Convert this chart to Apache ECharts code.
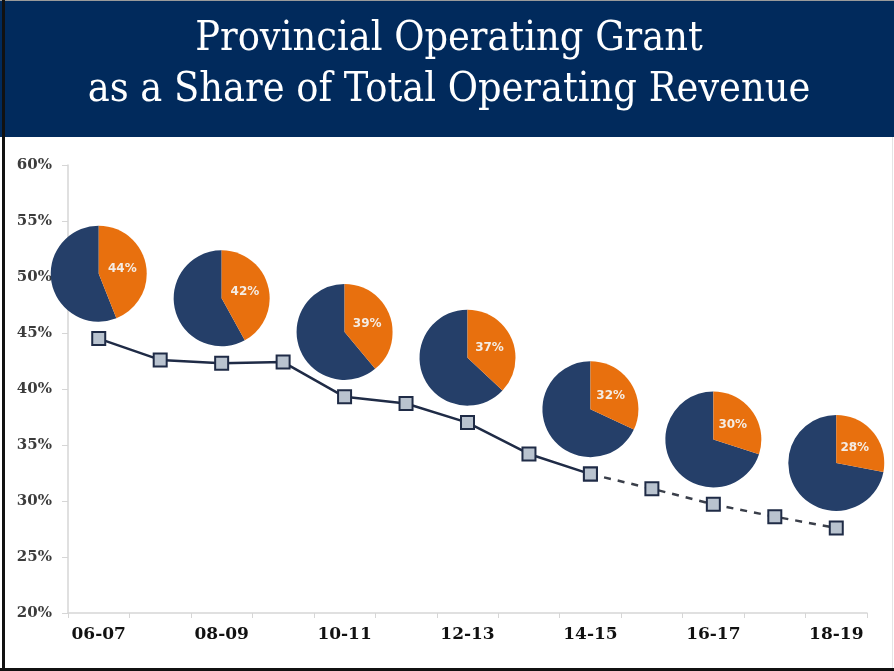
<!DOCTYPE html>
<html>
<head>
<meta charset="utf-8">
<script src="https://cdn.jsdelivr.net/npm/echarts@6/dist/echarts.min.js"></script>
<style>
  html, body { margin: 0; padding: 0; background: #fff; }
  #chart { width: 894px; height: 671px; }
</style>
</head>
<body>
<div id="chart"></div>
<script>
// fiscal years, one point each
const years = ['06-07', '07-08', '08-09', '09-10', '10-11', '11-12', '12-13',
  '13-14', '14-15', '15-16', '16-17', '17-18', '18-19']
// grant share of total operating revenue (%)
const grantShare = [44.5, 42.6, 42.3, 42.4, 39.3, 38.7, 37.0, 34.2, 32.4, 31.1, 29.7, 28.6, 27.6]
// last actual year, after which the line is a projection
const lastActualIndex = 8
// pies sit above every other year
const pieYears = ['06-07', '08-09', '10-11', '12-13', '14-15', '16-17', '18-19']
const pieShares = [44, 42, 39, 37, 32, 30, 28]
const yTicks = { min: 20, max: 60, step: 5 }

const NAVY = '#253f69'
const ORANGE = '#e8700e'
const LINE = '#1f2b46'
const PIE_LIFT = 5.8   // pie centre sits this many points above its marker
const PIE_R = 48

const chart = echarts.init(document.getElementById('chart'))

const actualData = grantShare.map((v, i) => (i <= lastActualIndex ? v : '-'))
const projectedData = grantShare.map((v, i) => (i >= lastActualIndex ? v : '-'))
const pieData = pieYears.map((y, i) => {
  const idx = years.indexOf(y)
  return [idx, grantShare[idx] + PIE_LIFT, pieShares[i]]
})

const renderPie = (params, api) => {
  const c = api.coord([api.value(0), api.value(1)])
  const share = api.value(2) / 100
  const start = -Math.PI / 2
  const split = start + share * Math.PI * 2
  const mid = (start + split) / 2
  return {
    type: 'group',
    children: [
      {
        type: 'sector',
        shape: { cx: c[0], cy: c[1], r: PIE_R, startAngle: split, endAngle: start + Math.PI * 2, clockwise: true },
        style: { fill: NAVY }
      },
      {
        type: 'sector',
        shape: { cx: c[0], cy: c[1], r: PIE_R, startAngle: start, endAngle: split, clockwise: true },
        style: { fill: ORANGE }
      },
      {
        type: 'text',
        x: c[0] + Math.cos(mid) * PIE_R * 0.5,
        y: c[1] + Math.sin(mid) * PIE_R * 0.5,
        style: {
          text: api.value(2) + '%',
          fill: '#f4ece4',
          font: 'bold 12px "DejaVu Sans"',
          align: 'center',
          verticalAlign: 'middle'
        }
      }
    ]
  }
}

const markerStyle = {
  color: '#b9c3cf',
  borderColor: LINE,
  borderWidth: 2
}

chart.setOption({
  animation: false,
  backgroundColor: '#ffffff',
  graphic: [
    { type: 'rect', shape: { x: 0, y: 0, width: 894, height: 137 }, style: { fill: '#012a5c' }, z: -1 },
    { type: 'rect', shape: { x: 0, y: 0, width: 894, height: 1 }, style: { fill: '#9a9a9a' } },
    { type: 'rect', shape: { x: 2, y: 0, width: 3, height: 671 }, style: { fill: '#111111' } },
    { type: 'rect', shape: { x: 0, y: 668, width: 894, height: 3 }, style: { fill: '#111111' } },
    { type: 'rect', shape: { x: 892, y: 137, width: 1, height: 531 }, style: { fill: '#e4e4e4' } }
  ],
  title: {
    text: 'Provincial Operating Grant\nas a Share of Total Operating Revenue',
    left: 449,
    top: 14,
    padding: 0,
    textAlign: 'center',
    textStyle: {
      color: '#ffffff',
      fontFamily: '"DejaVu Serif Condensed", "DejaVu Serif", serif',
      fontWeight: 'normal',
      fontSize: 41,
      lineHeight: 51
    }
  },
  grid: {
    left: 68,
    right: 27,
    top: 165,
    bottom: 58
  },
  xAxis: {
    type: 'category',
    data: years,
    boundaryGap: true,
    axisLine: { lineStyle: { color: '#d6d6d6', width: 1.5 } },
    axisTick: { show: true, interval: 0, length: 5, lineStyle: { color: '#d6d6d6' } },
    axisLabel: {
      interval: 1,
      margin: 13,
      color: '#111111',
      fontSize: 17,
      fontWeight: 'bold',
      fontFamily: '"DejaVu Serif", serif'
    }
  },
  yAxis: {
    type: 'value',
    min: yTicks.min,
    max: yTicks.max,
    interval: yTicks.step,
    splitLine: { show: false },
    axisLine: { show: true, lineStyle: { color: '#d6d6d6', width: 1.5 } },
    axisTick: { show: true, length: 6, lineStyle: { color: '#d6d6d6' } },
    axisLabel: {
      formatter: '{value}%',
      margin: 16,
      color: '#3c3c3c',
      fontSize: 15,
      fontWeight: 'bold',
      fontFamily: '"DejaVu Serif", serif'
    }
  },
  series: [
    {
      name: 'pies',
      type: 'custom',
      data: pieData,
      renderItem: renderPie,
      clip: false,
      z: 1
    },
    {
      name: 'actual',
      type: 'line',
      data: actualData,
      symbol: 'rect',
      symbolSize: 13,
      showAllSymbol: true,
      lineStyle: { color: LINE, width: 2.5 },
      itemStyle: markerStyle,
      z: 3
    },
    {
      name: 'projected',
      type: 'line',
      data: projectedData,
      symbol: 'rect',
      symbolSize: 13,
      showAllSymbol: true,
      lineStyle: { color: '#3a3f4a', width: 2.5, type: [7, 7] },
      itemStyle: markerStyle,
      z: 3
    }
  ]
})
</script>
</body>
</html>
